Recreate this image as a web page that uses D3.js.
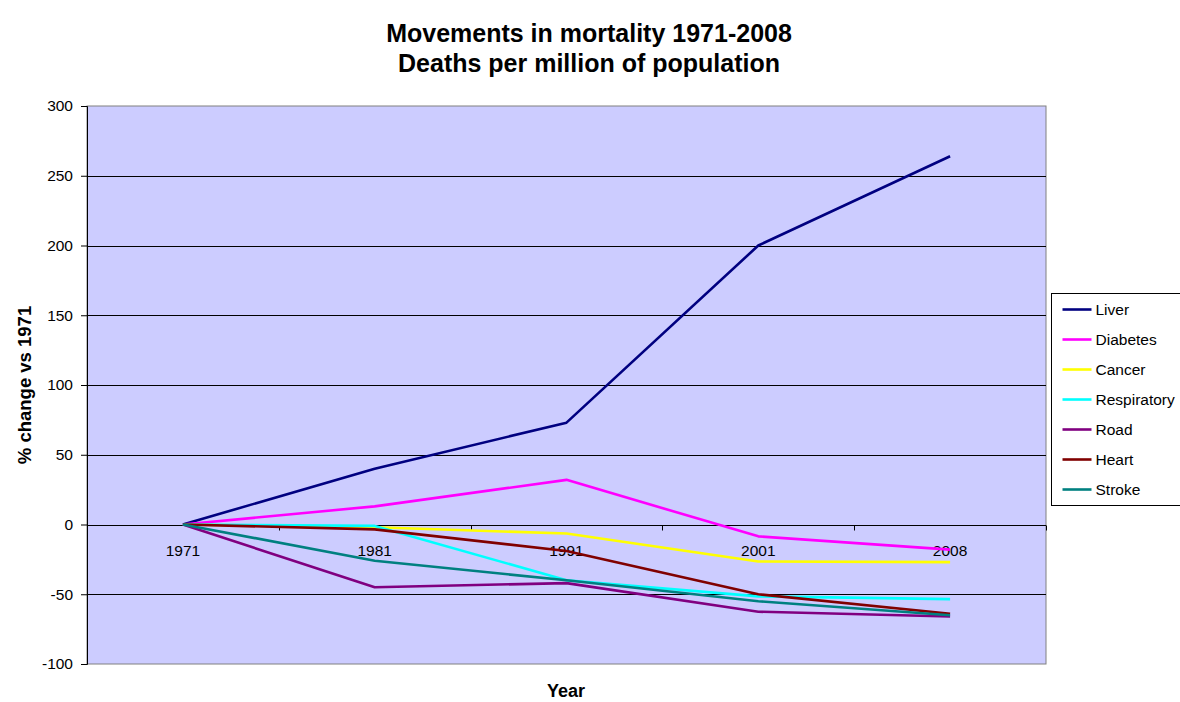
<!DOCTYPE html>
<html>
<head>
<meta charset="utf-8">
<script src="https://cdn.jsdelivr.net/npm/d3@7"></script>
<style>
  body { margin: 0; background: #fff; }
  svg { display: block; font-family: "Liberation Sans", Arial, sans-serif; }
</style>
</head>
<body>
<div id="chart"></div>
<script>
// Chart data
const years = ['1971', '1981', '1991', '2001', '2008'];
const seriesNames = ['Liver', 'Diabetes', 'Cancer', 'Respiratory', 'Road', 'Heart', 'Stroke'];
const seriesColors = ['#000080', '#FF00FF', '#FFFF00', '#00FFFF', '#800080', '#800000', '#008080'];
const liver = [0, 40, 73, 200, 264];
const diabetes = [0, 13, 32, -8.5, -18];
const cancer = [0, -2, -6.5, -26.5, -27];
const respiratory = [0, -1, -40, -51.5, -53.5];
const road = [0, -45, -42, -62.5, -66];
const heart = [0, -3.5, -19, -50, -64];
const stroke = [0, -26, -40, -55, -65];
const yTicks = [-100, -50, 0, 50, 100, 150, 200, 250, 300];

const allValues = [liver, diabetes, cancer, respiratory, road, heart, stroke];

const width = 1180, height = 702;
const plot = { left: 87, top: 106, right: 1046, bottom: 664 };
const fontFamily = '"Liberation Sans", Arial, sans-serif';

const svg = d3.select('#chart').append('svg')
    .attr('width', width)
    .attr('height', height);

// Title
svg.append('text')
    .attr('x', 589).attr('y', 42)
    .attr('text-anchor', 'middle')
    .attr('font-size', '25px').attr('font-weight', 'bold')
    .text('Movements in mortality 1971-2008');
svg.append('text')
    .attr('x', 589).attr('y', 72)
    .attr('text-anchor', 'middle')
    .attr('font-size', '25px').attr('font-weight', 'bold')
    .text('Deaths per million of population');

const x = d3.scaleBand().domain(years).range([plot.left, plot.right]);
const y = d3.scaleLinear().domain([-100, 300]).range([plot.bottom, plot.top]);

// Plot background
svg.append('rect')
    .attr('x', plot.left).attr('y', plot.top)
    .attr('width', plot.right - plot.left)
    .attr('height', plot.bottom - plot.top)
    .attr('fill', '#CCCCFF')
    .attr('stroke', '#808080')
    .attr('stroke-width', 1);

// Gridlines
svg.append('g')
    .selectAll('line')
    .data(yTicks.filter(d => d !== -100 && d !== 300 && d !== 0))
    .enter().append('line')
    .attr('x1', plot.left).attr('x2', plot.right)
    .attr('y1', d => Math.round(y(d)) + 0.5)
    .attr('y2', d => Math.round(y(d)) + 0.5)
    .attr('stroke', '#000')
    .attr('stroke-width', 1);

// Y axis (plain hyphen for negatives, like the original)
const yAxis = svg.append('g')
    .attr('transform', `translate(${plot.left},0)`)
    .call(d3.axisLeft(y).tickValues(yTicks).tickFormat(d => String(d)).tickSize(6).tickPadding(8));
yAxis.select('.domain').attr('stroke', '#000');
yAxis.selectAll('.tick line').attr('stroke', '#000');
yAxis.selectAll('text')
    .attr('font-size', '15.5px')
    .attr('fill', '#000')
    .attr('font-family', fontFamily);

// X axis at zero line, ticks between categories
const xAxisG = svg.append('g')
    .attr('transform', `translate(0,${Math.round(y(0)) + 0.5})`);
xAxisG.append('line')
    .attr('x1', plot.left).attr('x2', plot.right)
    .attr('stroke', '#000');
xAxisG.selectAll('.xtick')
    .data(years.slice(1).concat(['end']))
    .enter().append('line')
    .attr('class', 'xtick')
    .attr('x1', (d, i) => Math.round(x(years[0]) + (i + 1) * x.bandwidth()) + 0.5)
    .attr('x2', (d, i) => Math.round(x(years[0]) + (i + 1) * x.bandwidth()) + 0.5)
    .attr('y1', 0).attr('y2', 5)
    .attr('stroke', '#000');
xAxisG.selectAll('.xlabel')
    .data(years)
    .enter().append('text')
    .attr('class', 'xlabel')
    .attr('x', d => x(d) + x.bandwidth() / 2)
    .attr('y', 30.5)
    .attr('text-anchor', 'middle')
    .attr('font-size', '15.5px')
    .text(d => d);

// Axis titles
svg.append('text')
    .attr('transform', `translate(31,385) rotate(-90)`)
    .attr('text-anchor', 'middle')
    .attr('font-size', '18.5px').attr('font-weight', 'bold')
    .text('% change vs 1971');
svg.append('text')
    .attr('x', 566).attr('y', 697)
    .attr('text-anchor', 'middle')
    .attr('font-size', '18px').attr('font-weight', 'bold')
    .text('Year');

// Lines
const line = d3.line()
    .x((d, i) => x(years[i]) + x.bandwidth() / 2)
    .y(d => y(d));

svg.append('g')
    .selectAll('path')
    .data(allValues)
    .enter().append('path')
    .attr('d', line)
    .attr('fill', 'none')
    .attr('stroke', (d, i) => seriesColors[i])
    .attr('stroke-width', 2.6)
    .attr('stroke-linejoin', 'round');

// Legend
const legend = svg.append('g').attr('transform', 'translate(1051.5,293.5)');
legend.append('rect')
    .attr('width', 140).attr('height', 212)
    .attr('fill', '#fff')
    .attr('stroke', '#000').attr('stroke-width', 1);
const items = legend.selectAll('.item')
    .data(seriesNames)
    .enter().append('g')
    .attr('class', 'item')
    .attr('transform', (d, i) => `translate(0,${16 + i * 30})`);
items.append('line')
    .attr('x1', 11).attr('x2', 40)
    .attr('stroke', (d, i) => seriesColors[i])
    .attr('stroke-width', 2.6);
items.append('text')
    .attr('x', 44).attr('y', 5.5)
    .attr('font-size', '15.5px')
    .text(d => d);
</script>
</body>
</html>
